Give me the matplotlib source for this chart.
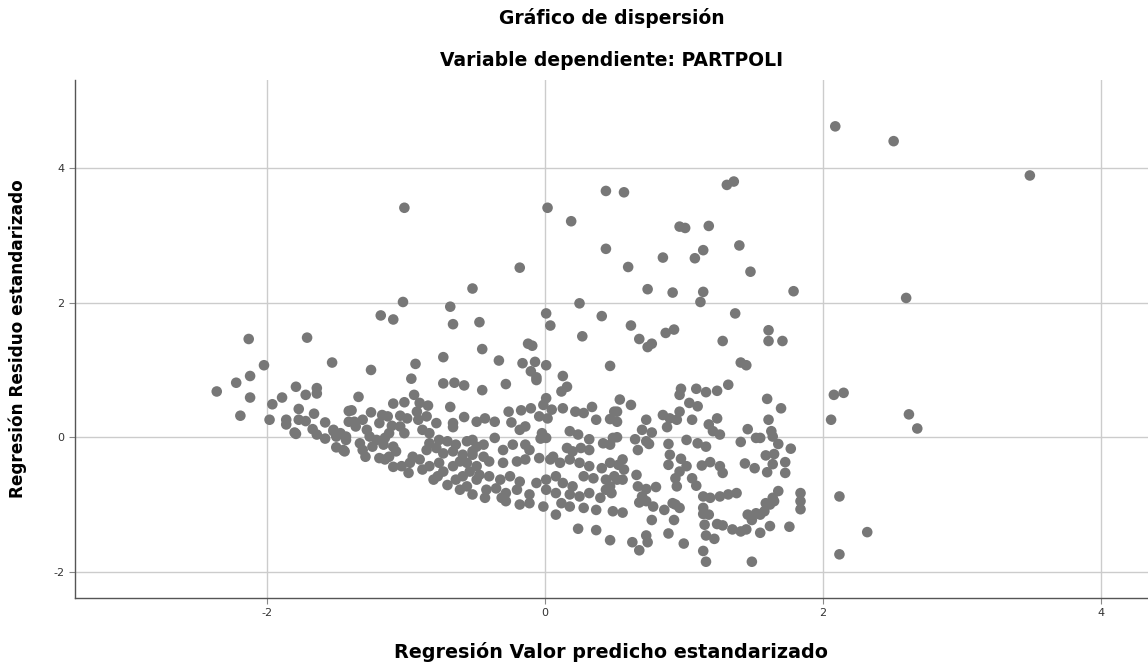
import matplotlib
matplotlib.use("Agg")
import matplotlib.pyplot as plt

plt.rcParams['font.family'] = ['DejaVu Sans']
plt.rcParams['axes.unicode_minus'] = False

# Valor predicho estandarizado (x) y residuo estandarizado (y)
predicho = [
    # valores altos / atipicos
    -1.01, 0.02, 0.19, 0.44, 0.57, 0.97, 1.01, 1.18, 1.31, 1.36, 2.09, 2.51, 3.49, 0.44, 1.40,
    2.60, 2.08, 2.15, 2.06, 2.62, 2.68, 2.12, 2.32, 2.12, 1.84, 1.84, 1.84,
    # zona superior derecha
    0.60, 0.85, 1.08, 1.14, 1.48, 0.74, 0.92, 1.14, 1.12, 1.79, 1.37, 0.62, 0.68, 0.74, 0.77,
    0.87, 0.93, 1.28, 1.61, 1.61, 1.71, 0.47, 1.41, 1.45,
    0.98, 0.97, 1.09, 1.16, 1.24, 1.32,
    # zona superior central
    -0.18, -0.52, 0.25, 0.41, 0.01, 0.04, -0.47, 0.27, -0.45, -0.12, -0.09, -0.33, -0.16, -0.07,
    0.01, -0.10, -0.06, 0.13, -0.28, 0.16, -0.45,
    -1.02, -0.68, -1.18, -1.09, -0.66, -1.53, -1.25, -0.93, -0.73, -0.96, -0.73, -0.65, -0.58,
    # zona izquierda
    -2.13, -1.71, -2.02, -2.12, -2.22, -2.36, -2.12, -1.79, -1.72, -1.64, -1.64, -1.89, -1.96,
    -2.19, -1.98, -1.77, -1.66, -1.86, -1.86, -1.77, -1.72, -1.80, -1.79, -1.67, -1.64, -1.58,
    -1.58, -1.52, -1.50, -1.50, -1.45, -1.43, -1.41, -1.41,
    # nube central izquierda
    -1.34, -0.94, -1.09, -1.01, -0.90, -0.84, -0.68, -1.39, -1.25, -1.17, -1.13, -1.04, -0.99,
    -0.92, -0.91, -0.85, -0.78, -0.58, -0.49, -0.66, -0.66, -1.37, -1.31, -1.36, -1.28, -1.52,
    -1.47, -1.19, -1.10, -1.04, -1.01, -1.12, -1.15, -0.88, -0.83, -1.26, -1.21, -1.43, -1.44,
    -1.33, -1.31, -1.24, -1.16, -1.09, -1.07, -1.12, -1.29, -1.19, -1.15, -0.83, -0.85, -0.78,
    -0.90, -0.95, -0.97, -0.76, -0.70, -0.64, -0.56, -0.52, -0.73, -0.66, -0.59, -0.52, -0.88,
    -0.83, -1.09, -1.03, -0.98, -0.76, -0.73, -0.66, -0.61, -0.56, -0.49, -0.54, -0.80, -0.77,
    -0.70, -0.64, -0.59, -0.61, -0.56, -0.52, -0.49,
    # nube central
    0.12, -0.06, 0.01, -0.01, 0.05, -0.26, -0.17, -0.10, -0.43, -0.36, -0.24, -0.18, -0.14,
    -0.04, 0.02, 0.13, 0.22, 0.28, 0.34, 0.37, 0.47, 0.52, -0.36, -0.02, 0.01, -0.03, 0.18,
    0.24, 0.32, 0.42, 0.49, -0.49, -0.44, -0.52, -0.44, -0.30, -0.23, -0.14, -0.11, -0.40,
    -0.30, -0.20, -0.14, -0.04, 0.04, 0.06, 0.11, 0.16, 0.20, 0.26, 0.32, 0.18, 0.25, 0.32,
    0.41, 0.47, 0.53, -0.47, -0.40, -0.32, -0.25, -0.18, -0.06, 0.01, 0.08, 0.13, 0.20, 0.28,
    0.35, 0.44, 0.52, -0.42, -0.35, -0.28, -0.20, -0.11, 0.01, 0.08, 0.18, 0.25, 0.32, 0.40,
    0.44, -0.43, -0.31, -0.18, -0.11, -0.01, 0.08, 0.12, 0.18, 0.28, 0.37, 0.49, -0.28,
    # nube central derecha
    0.54, 0.62, 0.50, 0.52, 0.85, 0.90, 0.95, 0.97, 1.04, 1.10, 1.06, 0.73, 0.70, 0.77, 0.88,
    1.24, 1.18, 1.21, 1.26, 1.46, 1.52, 1.41, 0.52, 0.47, 0.65, 0.73, 0.75, 0.67, 0.89, 1.02,
    1.10, 1.16, 0.90, 0.98, 0.89, 0.56, 0.57, 0.50, 0.56, 1.02, 0.97, 0.94, 0.95, 1.13, 1.19,
    1.26, 1.28, 1.44, 1.51, 0.66, 1.06, 1.09, 0.67, 0.73, 0.80, 0.70, 0.73, 0.47, 0.48, 1.14,
    1.19, 1.26, 1.32, 1.38, 0.78, 0.86, 0.92, 0.97, 0.56, 0.77, 1.14, 1.18, 1.46, 1.52,
    1.60, 1.70, 1.61, 1.63, 1.64, 1.68, 1.55, 1.77, 1.59, 1.65, 1.64, 1.73, 1.60, 1.73, 1.68,
    1.64, 1.59,
    # zona inferior
    0.24, 0.37, 0.47, 0.68, 0.94, 0.93, 0.63, 0.68, 0.73, 0.74, 0.89, 1.00, 1.14, 1.15, 1.24,
    1.28, 1.16, 1.22, 1.14, 1.16, 1.35, 1.41, 1.45, 1.49, 1.55, 1.58, 1.62, 1.65, 1.55, 1.62,
    1.76, 1.49,
]

residuo = [
    3.41, 3.41, 3.21, 3.66, 3.64, 3.13, 3.11, 3.14, 3.75, 3.80, 4.62, 4.40, 3.89, 2.80, 2.85,
    2.07, 0.63, 0.66, 0.26, 0.34, 0.13, -0.88, -1.41, -1.74, -0.83, -0.95, -1.07,
    2.53, 2.67, 2.66, 2.78, 2.46, 2.20, 2.15, 2.16, 2.01, 2.17, 1.84, 1.66, 1.46, 1.34, 1.39,
    1.55, 1.60, 1.43, 1.59, 1.43, 1.43, 1.06, 1.11, 1.07,
    0.72, 0.63, 0.72, 0.67, 0.69, 0.78,
    2.52, 2.21, 1.99, 1.80, 1.84, 1.66, 1.71, 1.50, 1.31, 1.39, 1.36, 1.14, 1.10, 1.12,
    1.07, 0.98, 0.89, 0.91, 0.79, 0.75, 0.70,
    2.01, 1.94, 1.81, 1.75, 1.68, 1.11, 1.00, 1.09, 1.19, 0.87, 0.80, 0.81, 0.77,
    1.46, 1.48, 1.07, 0.91, 0.81, 0.68, 0.59, 0.75, 0.63, 0.73, 0.65, 0.59, 0.49,
    0.32, 0.26, 0.42, 0.35, 0.26, 0.19, 0.26, 0.24, 0.07, 0.05, 0.12, 0.04, -0.02,
    0.22, 0.11, 0.01, -0.15, -0.19, 0.01, 0.39, 0.23,
    0.60, 0.63, 0.50, 0.52, 0.51, 0.47, 0.45, 0.40, 0.37, 0.33, 0.31, 0.32, 0.28,
    0.38, 0.26, 0.31, 0.21, 0.30, 0.23, 0.21, 0.15, 0.23, 0.26, 0.16, 0.11, 0.09,
    0.06, 0.21, 0.17, 0.16, 0.06, 0.06, -0.01, 0.11, 0.06, 0.01, -0.04, -0.04, -0.21,
    -0.09, -0.19, -0.14, -0.11, -0.14, -0.21, -0.29, -0.29, -0.31, -0.33, -0.09, -0.19, -0.16,
    -0.33, -0.29, -0.38, -0.04, -0.06, -0.11, -0.06, -0.04, -0.24, -0.21, -0.26, -0.21, -0.48,
    -0.43, -0.44, -0.43, -0.53, -0.38, -0.51, -0.43, -0.36, -0.38, -0.43, -0.51, -0.63, -0.58,
    -0.71, -0.63, -0.58, -0.78, -0.73, -0.85, -0.63,
    0.68, 0.85, 0.58, 0.48, 0.41, 0.38, 0.40, 0.43, 0.28, 0.23, 0.22, 0.11, 0.16,
    0.31, 0.28, 0.43, 0.38, 0.36, 0.45, 0.26, 0.27, 0.38, -0.01, 0.06, -0.01, -0.02, 0.09,
    0.04, -0.03, -0.09, -0.01, -0.14, -0.11, -0.26, -0.29, -0.19, -0.11, -0.11, -0.19, -0.36,
    -0.38, -0.36, -0.33, -0.31, -0.33, -0.29, -0.38, -0.16, -0.21, -0.16, -0.19, -0.33, -0.38, -0.43,
    -0.46, -0.38, -0.41, -0.56, -0.58, -0.63, -0.58, -0.66, -0.68, -0.63, -0.58, -0.68, -0.73, -0.58,
    -0.61, -0.63, -0.63, -0.78, -0.76, -0.83, -0.78, -0.85, -0.78, -0.83, -0.85, -0.88, -0.83, -0.90,
    -0.78, -0.90, -0.90, -1.00, -0.98, -1.03, -1.15, -0.98, -1.03, -1.05, -1.08, -1.10, -0.95,
    0.56, 0.48, 0.38, 0.23, 0.33, 0.28, 0.26, 0.38, 0.51, 0.46, 0.26, 0.26, 0.11, 0.07, 0.15,
    0.28, 0.19, 0.09, 0.04, 0.12, -0.01, -0.07, 0.00, -0.11, -0.03, -0.06, -0.10, -0.19, -0.10, -0.04,
    -0.09, -0.14, -0.26, -0.32, -0.41, -0.33, -0.48, -0.58, -0.63, -0.43, -0.51, -0.61, -0.73, -0.42, -0.37,
    -0.43, -0.53, -0.39, -0.46, -0.56, -0.61, -0.72, -0.73, -0.77, -0.74, -0.88, -0.95, -0.73, -0.83, -0.88,
    -0.90, -0.88, -0.85, -0.83, -1.03, -1.08, -0.98, -1.05, -1.12, -1.23, -1.05, -1.15, -1.15, -1.13,
    0.57, 0.43, 0.26, 0.09, 0.01, -0.10, -0.01, -0.17, -0.27, -0.25, -0.40, -0.37, -0.52, -0.53, -0.80,
    -0.90, -0.98,
    -1.36, -1.38, -1.53, -0.97, -1.00, -1.23, -1.56, -1.68, -1.46, -1.56, -1.43, -1.58, -1.14, -1.30, -1.29,
    -1.31, -1.46, -1.51, -1.69, -1.85, -1.37, -1.40, -1.37, -1.23, -1.15, -1.10, -1.00, -0.95, -1.42, -1.32,
    -1.33, -1.85,
]

xticks = [-2, 0, 2, 4]
yticks = [-2, 0, 2, 4]

fig = plt.figure(figsize=(11.48, 6.66), dpi=100)
ax = fig.add_axes([0.0653, 0.102, 0.9347, 0.778])

ax.scatter(predicho, residuo, s=58, color='#777777', edgecolors='none', zorder=3)

ax.set_xlim(-3.38, 4.34)
ax.set_ylim(-2.39, 5.31)
ax.set_xticks(xticks)
ax.set_yticks(yticks)
ax.grid(True, color='#cccccc', linewidth=1.0, zorder=0)
ax.set_axisbelow(True)
ax.tick_params(labelsize=8, colors='#333333', length=4, color='#888888')

for s in ['top', 'right']:
    ax.spines[s].set_visible(False)
for s in ['left', 'bottom']:
    ax.spines[s].set_color('#555555')
    ax.spines[s].set_linewidth(1.0)

fig.text(0.5327, 1 - 18 / 666, 'Gráfico de dispersión', ha='center', va='center',
         fontsize=13.5, fontweight='bold')
fig.text(0.5327, 1 - 60 / 666, 'Variable dependiente: PARTPOLI', ha='center', va='center',
         fontsize=13.5, fontweight='bold')
ax.set_xlabel('Regresión Valor predicho estandarizado', fontsize=13.8, fontweight='bold',
              labelpad=17)
ax.set_ylabel('Regresión Residuo estandarizado', fontsize=12.2, fontweight='bold',
              labelpad=19)

fig.savefig('out.png', dpi=100)
